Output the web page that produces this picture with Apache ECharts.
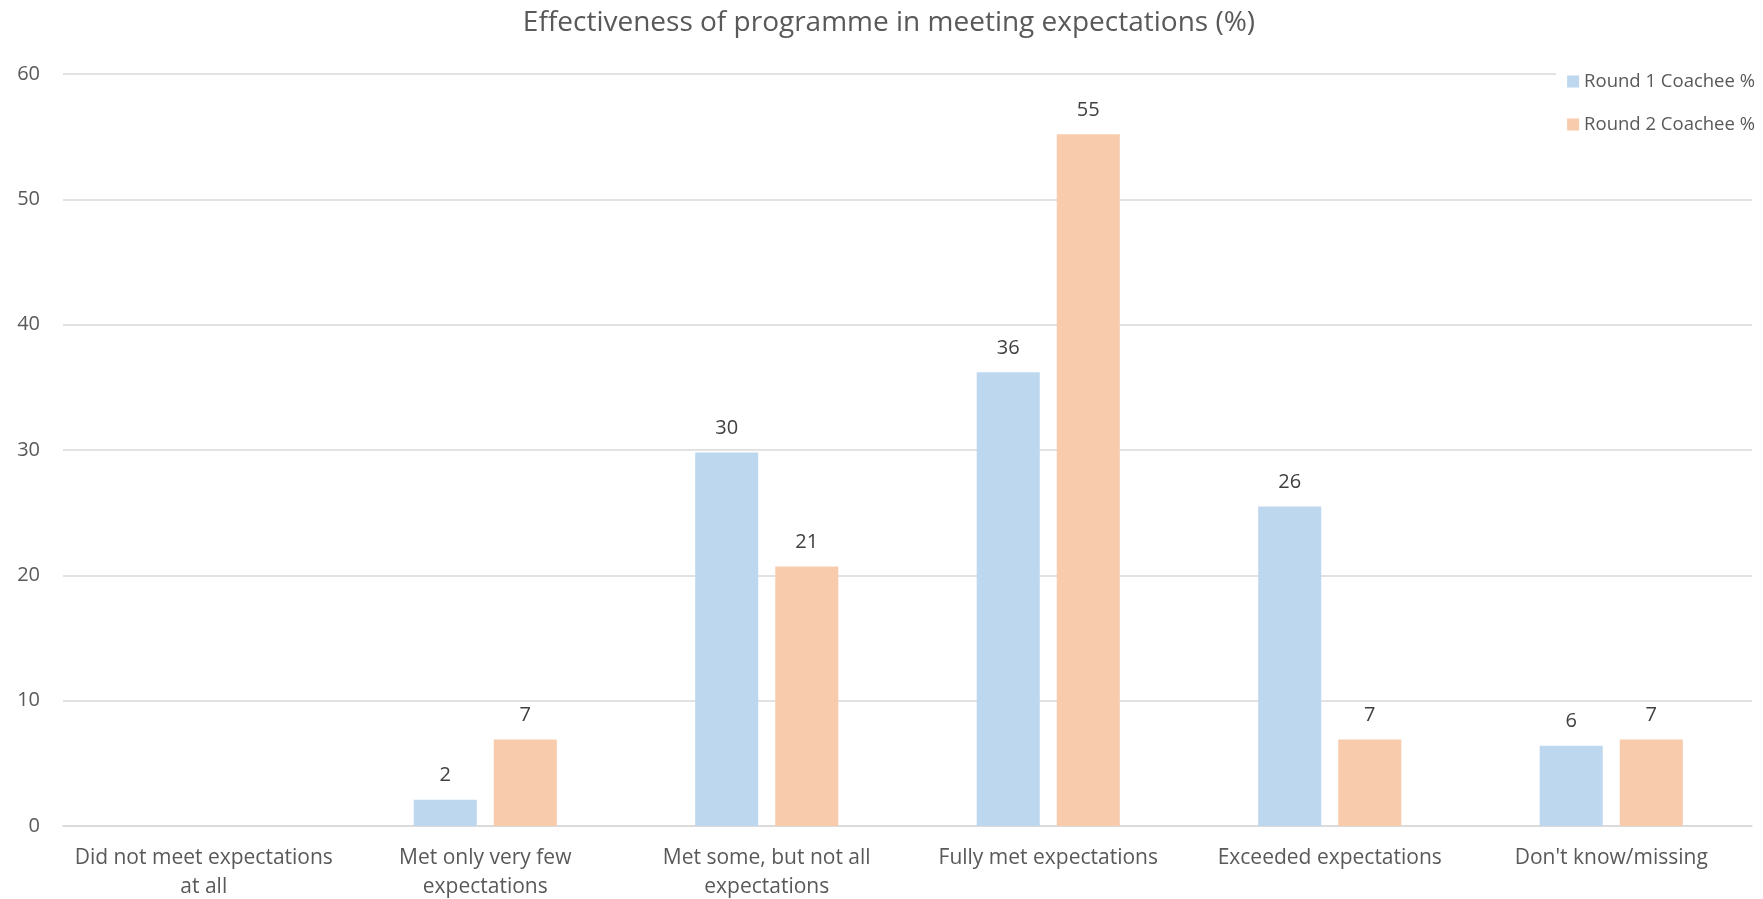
<!DOCTYPE html>
<html>
<head>
<meta charset="utf-8">
<script src="https://cdn.jsdelivr.net/npm/echarts@6/dist/echarts.min.js"></script>
<style>
  html, body { margin: 0; padding: 0; background: #ffffff; }
  #chart { width: 1763px; height: 899px; }
</style>
</head>
<body>
<div id="chart"></div>
<script>
// Response categories (line breaks as shown under the axis)
const categories = [
  'Did not meet expectations\nat all',
  'Met only very few\nexpectations',
  'Met some, but not all\nexpectations',
  'Fully met expectations',
  'Exceeded expectations',
  "Don't know/missing"
];

// Share of coachees per response (%); null = no response recorded
const round1 = [null, 2.1, 29.8, 36.2, 25.5, 6.4];
const round2 = [null, 6.9, 20.7, 55.2, 6.9, 6.9];

const seriesNames = ['Round 1 Coachee %', 'Round 2 Coachee %'];
const yTicks = { min: 0, max: 60, interval: 10 };

const FONT = '"Open Sans", "Noto Sans", sans-serif';
const TEXT = '#595959';
const GRID = '#d9d9d9';

const chart = echarts.init(document.getElementById('chart'), null, { renderer: 'canvas' });

const labelCfg = {
  show: true,
  position: 'top',
  distance: 14,
  color: '#404040',
  fontFamily: FONT,
  fontSize: 20,
  formatter: p => (p.value == null ? '' : Math.round(p.value))
};

chart.setOption({
  animation: false,
  backgroundColor: '#ffffff',
  title: {
    text: 'Effectiveness of programme in meeting expectations (%)',
    left: 884,
    textAlign: 'center',
    top: 4,
    textStyle: { color: TEXT, fontFamily: FONT, fontSize: 28, fontWeight: 'normal' }
  },
  legend: {
    orient: 'vertical',
    right: 4,
    top: 64,
    itemWidth: 12,
    itemHeight: 12,
    itemGap: 24,
    icon: 'rect',
    padding: [8, 4, 8, 11],
    backgroundColor: '#ffffff',
    textStyle: { color: TEXT, fontFamily: FONT, fontSize: 18.5 },
    data: seriesNames
  },
  grid: {
    left: 63, right: 11, top: 74, bottom: 73,
    containLabel: false,
    outerBoundsMode: 'none'
  },
  xAxis: {
    type: 'category',
    data: categories,
    axisLine: { show: true, lineStyle: { color: GRID, width: 1.5 } },
    axisTick: { show: false },
    axisLabel: {
      color: TEXT, fontFamily: FONT, fontSize: 21, lineHeight: 29,
      margin: 18, interval: 0, align: 'center'
    }
  },
  yAxis: {
    type: 'value',
    min: yTicks.min,
    max: yTicks.max,
    interval: yTicks.interval,
    axisLine: { show: false },
    axisTick: { show: false },
    splitLine: { lineStyle: { color: GRID, width: 1.5 } },
    axisLabel: { color: TEXT, fontFamily: FONT, fontSize: 20, margin: 23 }
  },
  series: [
    {
      name: seriesNames[0],
      type: 'bar',
      data: round1,
      barWidth: '22.4%',
      barGap: '27%',
      itemStyle: { color: '#bdd7ee' },
      label: labelCfg
    },
    {
      name: seriesNames[1],
      type: 'bar',
      data: round2,
      barWidth: '22.4%',
      barGap: '27%',
      itemStyle: { color: '#f8cbad' },
      label: labelCfg
    }
  ]
});
</script>
</body>
</html>
